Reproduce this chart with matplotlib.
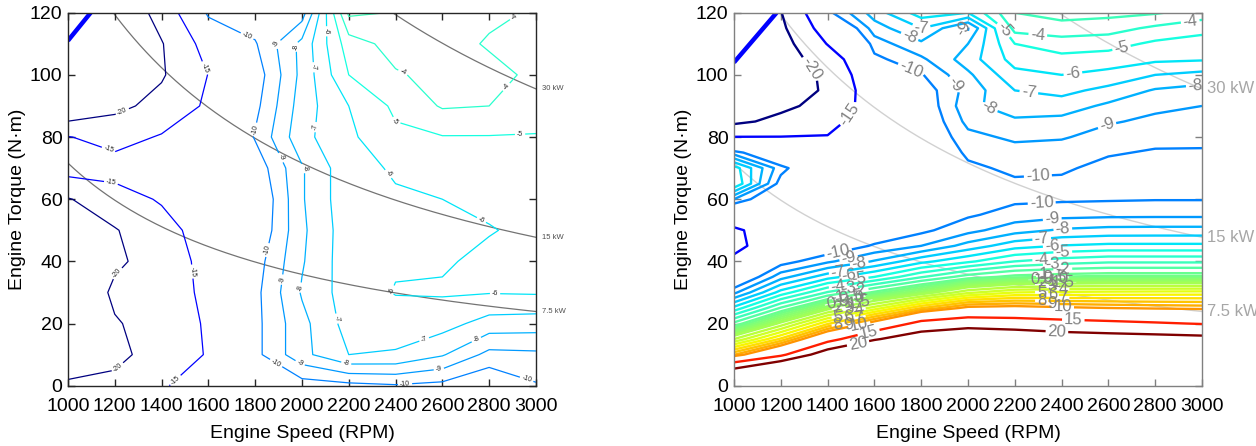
import numpy as np
import matplotlib
matplotlib.use("Agg")
import matplotlib.pyplot as plt
from matplotlib.colors import Normalize

plt.rcParams['font.family'] = ['Liberation Sans', 'DejaVu Sans']

# ---------------------------------------------------------------- grids
speed_rpm = [1000, 1200, 1400, 1600, 1800, 2000, 2200, 2400, 2600, 2800, 3000]
torque_left = [0, 10, 20, 30, 40, 50, 60, 70, 80, 90, 100, 110, 120]
torque_right = [0, 5, 10, 15, 20, 25, 30, 35, 40, 45, 50, 55, 60, 65, 70,
                75, 80, 85, 90, 95, 100, 105, 110, 115, 120]

# left map: one column per speed, values from 0 to 120 N·m
left_columns = [
    [-19.5, -22, -23, -24, -24, -22, -20.3, -13, -14.8, -25, -26, -27, -28],
    [-18.5, -21.5, -20.3, -19.3, -20.6, -20.3, -17.2, -13, -16.8, -21.2, -23, -24, -25],
    [-15.2, -17.5, -18.5, -18.5, -18.5, -17, -14.5, -13, -14.6, -18.5, -20.5, -20.3, -18],
    [-14, -14.7, -14.3, -13.5, -13, -12.5, -12, -12, -12.5, -14.2, -14.9, -13, -9.5],
    [-11, -10.3, -10.3, -10.3, -10.5, -11, -11.2, -10.7, -9.9, -10.3, -10.6, -10.1, -9.3],
    [-10.5, -8.3, -8.3, -7.9, -8.1, -8.2, -8.1, -8.1, -7.3, -7.5, -7.7, -7.7, -9.5],
    [-10.3, -7.0, -6.6, -6.5, -6.4, -6.4, -6.3, -6.3, -6.2, -6.0, -5.0, -4.5, -2.8],
    [-10.1, -7.1, -6.5, -5.95, -6.1, -6.2, -6.1, -5.9, -5.2, -4.8, -4.1, -3.6, -3.05],
    [-10.3, -7.9, -6.6, -5.9, -6.1, -6.3, -6.0, -5.6, -5.05, -3.9, -3.7, -3.6, -3.8],
    [-11, -9.3, -7.4, -5.95, -5.8, -6.05, -5.8, -5.5, -5.05, -4.0, -3.7, -4.1, -3.8],
    [-10.1, -9.2, -7.5, -5.9, -5.7, -5.8, -5.7, -5.4, -5.05, -4.6, -4.2, -4.4, -4.1],
]

# right map: one column per speed, values from 0 to 120 N·m in 5 N·m steps
right_columns = [
    [36, 21.2, 8.9, 3, -1.7, -5.7, -9.26, -11.8, -14, -16.2, -15.6, -12.5, -9, -5, -5.5,
     -9.5, -14.9, -21, -22, -23, -23.5, -24, -24, -24, -24],
    [40, 28.4, 13.9, 7.2, 2.3, -1.9, -5.6, -8.4, -10.5, -12, -12.8, -12.5, -11.8, -10.5, -9.6,
     -12, -14.9, -18.8, -21, -22, -22.5, -22.5, -22, -21, -20.2],
    [40, 34.8, 23.4, 13.2, 6.8, 1.5, -2.9, -6.4, -9.2, -11, -12, -12, -12, -12, -12,
     -12.5, -14.8, -16.5, -18.5, -19.5, -19.2, -17.5, -14.8, -12.5, -10.3],
    [40, 36, 28.1, 19.5, 10.9, 4.4, -0.8, -5, -7.9, -9.86, -11, -11.5, -11.5, -11.5, -11.3,
     -11, -12, -12.3, -12.5, -12, -11, -10.3, -9.5, -8.5, -7.5],
    [40, 40, 30.3, 23.3, 16.4, 7.9, 1.25, -3.1, -6.3, -9, -10.25, -10.7, -11, -11.2, -11.3,
     -11.3, -11.3, -11.2, -11, -10.7, -10.1, -9.2, -8.2, -7, -5.5],
    [40, 40, 31.5, 24.7, 18, 10.5, 3.75, -1.5, -5.2, -7.6, -9.33, -10.15, -10.6, -10.5, -10.2,
     -9.8, -9.3, -8.7, -8.3, -8.6, -8.2, -7.5, -8, -9.2, -6],
    [40, 40, 30.5, 24, 17.4, 10.7, 5, -0.67, -4, -6.4, -8.4, -9.58, -10.2, -10.15, -9.8,
     -9.4, -8.8, -8.2, -7.4, -7.0, -6.3, -5.6, -5.0, -3.6, -3.0],
    [40, 40, 29.1, 22.9, 16.6, 10.3, 5.2, -0.43, -3.5, -5.95, -7.86, -9.33, -10.15, -10.2, -9.85,
     -9.5, -8.9, -8.3, -7.5, -6.7, -6.0, -5.3, -4.5, -3.4, -2.6],
    [40, 40, 28.8, 22.4, 16, 10, 5.3, -0.3, -3.2, -5.76, -7.67, -9.25, -10.1, -10.5, -10.3,
     -9.9, -9.4, -8.9, -8.2, -7.3, -6.3, -5.5, -4.6, -3.6, -2.7],
    [40, 40, 28.6, 22, 15.4, 9.8, 5.36, -0.3, -3.2, -5.76, -7.64, -9.23, -10.05, -10.5, -10.4,
     -10.1, -9.7, -9.2, -8.8, -8.1, -7, -5.8, -5.2, -4.2, -2.9],
    [40, 40, 28.2, 21.5, 14.8, 9.66, 5.4, -0.3, -3.2, -5.76, -7.64, -9.23, -10.05, -10.5, -10.4,
     -10.1, -9.75, -9.4, -9, -8.4, -7.3, -5.9, -5.4, -4.7, -3.4],
]

levels_left = [-20, -15, -10, -9, -8, -7, -6, -5, -4, -3]
levels_right = [-20, -15, -10, -9, -8, -7, -6, -5, -4, -3, -2, -1, -0.5, 0, 0.5, 1, 1.5,
                2, 3, 4, 5, 6, 7, 8, 9, 10, 15, 20]
band_levels = [-10, -9, -8, -7, -6, -5, -4, -3, -2, -1, -0.5, 0, 0.5, 1, 1.5,
               2, 3, 4, 5, 6, 7, 8, 9, 10]

# constant power lines (kW) and the torque limit corner
power_kw = [7.5, 15, 30]
power_names = ['7.5 kW', '15 kW', '30 kW']
limit_left_speed = [1000, 1097]
limit_left_torque = [111, 120]
limit_right_speed = [1000, 1182]
limit_right_torque = [104, 120]

# label spots
left_label_spots = [(1229, 4.5), (1186, 37.9), (1236, 87.6), (1186, 66.5), (1180, 77.4),
                    (1598, 102.6), (1528, 36.7), (1457, 2), (1785, 115.5), (1778, 82.8),
                    (1849, 43.7), (1885, 6.7), (2440, 1.5), (2960, 2), (1870, 110),
                    (1920, 73.7), (1877, 34.5), (1990, 7), (2583, 6.7), (1941, 109),
                    (2041, 70), (1970, 31.8), (2191, 7.7), (2739, 15.8), (2041, 83.3),
                    (2120, 21.2), (2525, 14.3), (2084, 102.6), (2383, 68.9), (2312, 33),
                    (2825, 28.6), (2772, 54), (2084, 114), (2376, 80.7), (2932, 81.2),
                    (2447, 103), (2896, 94.6), (2917, 117.6)]
right_label_spots = [(1346, 103), (1547, 84.5), (1752, 101), (1741, 110.6), (1801, 114),
                     (1966, 113), (1944, 97), (2145, 114), (2299, 113.5), (2658, 108),
                     (2449, 100), (2256, 92), (2080, 87.6), (2594, 83.8), (2299, 67),
                     (2970, 97.7), (2950, 117)]

# ---------------------------------------------------------------- figure
fig = plt.figure(figsize=(12.56, 4.46), dpi=100)
ax1 = fig.add_axes([0.0541, 0.1352, 0.3726, 0.8363])
ax2 = fig.add_axes([0.5844, 0.1352, 0.3726, 0.8363])
norm = Normalize(vmin=-20, vmax=20)

Z1 = np.array(left_columns).T
Z2 = np.array(right_columns).T

cs1 = ax1.contour(speed_rpm, torque_left, Z1, levels=levels_left, cmap='jet',
                  norm=norm, linewidths=0.9)
cs2 = ax2.contour(speed_rpm, torque_right, Z2, levels=levels_right, cmap='jet',
                  norm=norm, linewidths=1.7)


def crossing(cs, level, x0, ymax):
    idx = list(cs.levels).index(level)
    for seg in cs.allsegs[idx]:
        xs, ys = seg[:, 0], seg[:, 1]
        for i in range(len(seg) - 1):
            if xs[i] != xs[i + 1] and (xs[i] - x0) * (xs[i + 1] - x0) <= 0:
                f = (x0 - xs[i]) / (xs[i + 1] - xs[i])
                y = ys[i] + f * (ys[i + 1] - ys[i])
                if y <= ymax:
                    return (x0, y)
    return None


# two clusters of band labels, slightly staggered sideways
band_spots = []
stagger = [-45, 0, 45]
for x0 in (1490, 2360):
    for k, lev in enumerate(band_levels):
        p = crossing(cs2, lev, x0 + stagger[k % 3], 62)
        if p is not None:
            band_spots.append(p)
for lev, x0 in ((15, 1575), (20, 1530), (15, 2450), (20, 2380)):
    p = crossing(cs2, lev, x0, 40)
    if p is not None:
        band_spots.append(p)

lt1 = ax1.clabel(cs1, manual=left_label_spots, fontsize=5, colors='0.15', inline=True,
                 inline_spacing=2, fmt='%g')
lt2 = ax2.clabel(cs2, manual=right_label_spots + band_spots, fontsize=12, colors='0.5',
                 inline=True, inline_spacing=2, fmt='%g')
for txt in list(lt1) + list(lt2):
    txt.set_clip_on(True)

n = np.linspace(1000, 3000, 300)
for ax, col, fs, dx in ((ax1, '0.45', 5.5, 25), (ax2, '0.82', 12, 20)):
    for p, name in zip(power_kw, power_names):
        t = p * 1000 * 60 / (2 * np.pi * n)
        ax.plot(n, t, color=col, lw=0.9 if ax is ax1 else 1.0, zorder=1)
        ax.text(3000 + dx, t[-1], name, fontsize=fs, va='center', ha='left',
                color='0.3' if ax is ax1 else '0.65', clip_on=False)

ax1.plot(limit_left_speed, limit_left_torque, color='#0000ff', lw=3.2,
         solid_capstyle='butt')
ax2.plot(limit_right_speed, limit_right_torque, color='#0000ff', lw=3.2,
         solid_capstyle='butt')

for ax, spine_col in ((ax1, '0.15'), (ax2, '0.5')):
    ax.set_xlim(1000, 3000)
    ax.set_ylim(0, 120)
    ax.set_xticks(range(1000, 3001, 200))
    ax.set_yticks(range(0, 121, 20))
    ax.tick_params(direction='in', top=True, right=True, length=5, width=1,
                   labelsize=14, color=spine_col)
    ax.tick_params(axis='x', pad=9)
    ax.tick_params(axis='y', pad=4)
    for s in ax.spines.values():
        s.set_color(spine_col)
        s.set_linewidth(1.0)
    ax.set_xlabel('Engine Speed (RPM)', fontsize=14, labelpad=7)
    ax.set_ylabel('Engine Torque (N·m)', fontsize=14, labelpad=3)

fig.savefig('out.png', dpi=100)
